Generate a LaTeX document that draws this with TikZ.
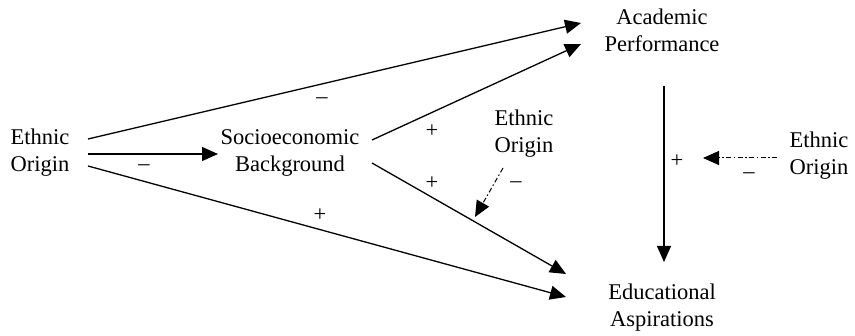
\documentclass[tikz,border=0pt]{standalone}
\usepackage{fontspec}
\setmainfont{Liberation Serif}
\usetikzlibrary{arrows.meta,calc}
\begin{document}
\begin{tikzpicture}[x=1pt,y=-1pt,
  lbl/.style={align=center,inner sep=0pt,font=\fontsize{22.5}{27}\selectfont},
  sgn/.style={inner sep=0pt,font=\fontsize{22.5}{27}\selectfont},
  arr/.style={line width=1.3pt,-{Triangle[length=16pt,width=14pt]}},
  dda/.style={line width=1pt,dash pattern=on 5pt off 2.5pt on 1.5pt off 2.5pt,-{Triangle[length=16pt,width=14pt]}}]
\useasboundingbox (0,0) rectangle (855,336);
\node[lbl] (eo1) at (40,153) {Ethnic\\Origin};
\node[lbl] (se) at (290,153) {Socioeconomic\\Background};
\node[lbl] (ap) at (662,30) {Academic\\Performance};
\node[lbl] (ea) at (662,308) {Educational\\Aspirations};
\node[lbl] (eo2) at (524,134) {Ethnic\\Origin};
\node[lbl] (eo3) at (819,156) {Ethnic\\Origin};
\draw[arr] ($(eo1)+(48,-14)$) -- ($(ap)+(-81,-7)$);
\draw[arr] ($(eo1)+(48,1)$) -- ($(se)+(-72,1)$);
\draw[arr] ($(eo1)+(48,13)$) -- ($(ea)+(-96,-11)$);
\draw[arr] ($(se)+(82,-13)$) -- ($(ap)+(-81,14)$);
\draw[arr] ($(se)+(82,10)$) -- ($(ea)+(-96,-34)$);
\draw[arr] ($(ap)+(2,56)$) -- ($(ea)+(2,-46)$);
\draw[dda] ($(eo3)+(-42,2)$) -- ++(-74,0);
\draw[dda] ($(eo2)+(-21,34)$) -- ++(-28,49);
\node[sgn] (s1) at (322,101) {–};
\node[sgn] (s2) at (144,168) {–};
\node[sgn] (s3) at (320,215) {+};
\node[sgn] (s4) at (432,131) {+};
\node[sgn] (s5) at (432,183) {+};
\node[sgn] (s6) at (516,185) {–};
\node[sgn] (s7) at (677,161) {+};
\node[sgn] (s8) at (749,176) {–};
\end{tikzpicture}
\end{document}
